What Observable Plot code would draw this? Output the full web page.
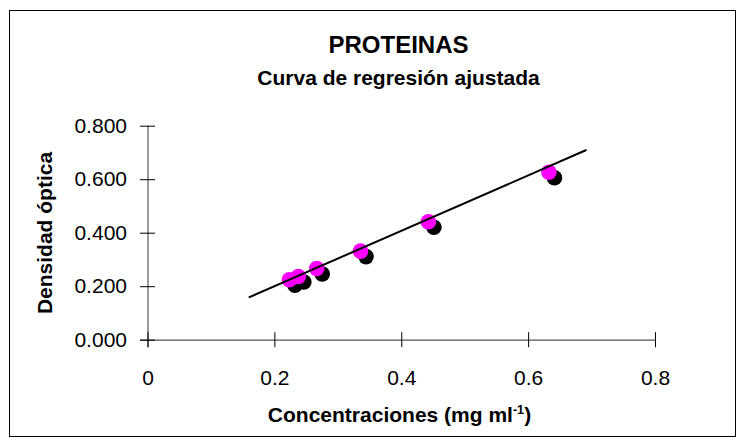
<!DOCTYPE html>
<html><head><meta charset="utf-8">
<script src="https://cdn.jsdelivr.net/npm/d3@7"></script>
<script src="https://cdn.jsdelivr.net/npm/@observablehq/plot@0.6"></script>
<style>
body{margin:0;background:#fff;font-family:"Liberation Sans",Arial,sans-serif;}
#wrap{position:relative;width:743px;height:445px;overflow:hidden;background:#fff;}
#border{position:absolute;left:9px;top:10px;width:727px;height:427px;border:1.5px solid #000;box-sizing:border-box;}
#chart{position:absolute;left:0;top:0;}
.t{position:absolute;left:27px;width:743px;text-align:center;font-weight:bold;color:#000;white-space:nowrap;line-height:1;}
#title{top:33px;font-size:24px;}
#subtitle{top:67px;font-size:21px;}
#xlabel{top:404px;font-size:21px;left:28px;}
#ylabel{position:absolute;left:43.5px;top:232.7px;transform:translate(-50%,-50%) rotate(-90deg);font-weight:bold;font-size:21px;white-space:nowrap;line-height:1;}
sup{font-size:0.6em;vertical-align:0.6em;line-height:0;}
</style>
</head><body>
<div id="wrap">
  <div id="border"></div>
  <div id="chart"></div>
  <div id="title" class="t">PROTEINAS</div>
  <div id="subtitle" class="t">Curva de regresión ajustada</div>
  <div id="xlabel" class="t">Concentraciones (mg ml<sup>-1</sup>)</div>
  <div id="ylabel">Densidad óptica</div>
</div>
<script>
const concentraciones = [0.223, 0.237, 0.266, 0.335, 0.442, 0.632];
const densidades = [0.226, 0.238, 0.268, 0.333, 0.443, 0.628];
const ajusteX = [0.16, 0.69];
const ajusteY = [0.161, 0.710];
const xTicks = [0, 0.2, 0.4, 0.6, 0.8];
const yTicks = [0, 0.2, 0.4, 0.6, 0.8];

const pts = concentraciones.map((x, i) => ({x, y: densidades[i]}));
const fit = ajusteX.map((x, i) => ({x, y: ajusteY[i]}));

const chart = Plot.plot({
  width: 743, height: 445,
  marginLeft: 147.5, marginRight: 88, marginTop: 125.7, marginBottom: 105.3,
  x: {domain: [0, 0.8]},
  y: {domain: [0, 0.8]},
  style: {fontFamily: "'Liberation Sans', Arial, sans-serif", fontSize: "21px", color: "#000", background: "transparent", overflow: "visible"},
  marks: [
    Plot.ruleX([0], {stroke: "#555", strokeWidth: 1.2, insetBottom: -7.5}),
    Plot.ruleY([0], {stroke: "#555", strokeWidth: 1.2, insetLeft: -7.5}),
    Plot.axisY({ticks: yTicks, tickSize: 15, dx: 7.5, tickPadding: 13.5, tickFormat: d3.format(".3f"), label: null, fontSize: 21, stroke: "#000"}),
    Plot.axisX({ticks: xTicks, tickSize: 15, dy: -7.5, tickPadding: 22, tickFormat: d => d === 0 ? "0" : d3.format(".1f")(d), label: null, fontSize: 21, stroke: "#000"}),
    Plot.dot(pts, {x: "x", y: "y", r: 7.8, fill: "#000", dx: 5.5, dy: 5.5}),
    Plot.dot(pts, {x: "x", y: "y", r: 7.8, fill: "#FF00FF"}),
    Plot.line(fit, {x: "x", y: "y", stroke: "#000", strokeWidth: 2})
  ]
});
document.getElementById("chart").appendChild(chart);
</script>
</body></html>
